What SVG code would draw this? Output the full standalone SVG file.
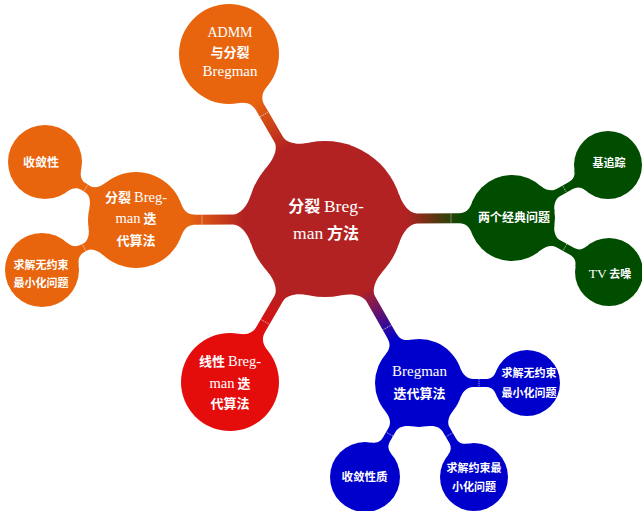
<svg xmlns="http://www.w3.org/2000/svg" width="642" height="511" viewBox="0 0 642 511">
<defs>
<linearGradient id="gO" x1="0" y1="0" x2="1" y2="0"><stop offset="0.1" stop-color="#B22222"/><stop offset="0.9" stop-color="#E8650E"/></linearGradient>
<linearGradient id="gG" x1="0" y1="0" x2="1" y2="0"><stop offset="0.1" stop-color="#B22222"/><stop offset="0.9" stop-color="#004D00"/></linearGradient>
<linearGradient id="gR" x1="0" y1="0" x2="1" y2="0"><stop offset="0.1" stop-color="#B22222"/><stop offset="0.9" stop-color="#E50C0C"/></linearGradient>
<linearGradient id="gB" x1="0" y1="0" x2="1" y2="0"><stop offset="0.1" stop-color="#B22222"/><stop offset="0.9" stop-color="#0000CC"/></linearGradient>
</defs>
<style>
.t{font-family:'Noto Sans CJK SC','Noto Sans CJK JP',sans-serif;font-weight:700;fill:#fff;text-anchor:middle}
.lat{font-family:'Liberation Serif',serif;font-weight:400}
.tick{stroke:#fff;stroke-width:0.7;stroke-dasharray:1.2 0.8;fill:none;opacity:0.85}
</style>
<rect width="642" height="511" fill="#fff"/>
<g id="connectors">
<g transform="translate(325,219) rotate(-120.2)"><path fill="url(#gO)" d="M74.2,-24 C77.6,-13.5 85,-5 92,-5 L128.9,-5 C134.9,-5 140.5,-7.6 143.9,-17 L143.9,17 C140.5,7.6 134.9,5 128.9,5 L92,5 C85,5 77.6,13.5 74.2,24 Z"/><line class="tick" x1="121" y1="-5" x2="121" y2="5"/></g>
<g transform="translate(325,219) rotate(179.7)"><path fill="url(#gO)" d="M74.2,-24 C77.6,-13.5 85,-5 92,-5 L129,-5 C135,-5 140.4,-6.6 143.7,-16 L143.7,16 C140.4,6.6 135,5 129,5 L92,5 C85,5 77.6,13.5 74.2,24 Z"/><line class="tick" x1="123" y1="-5" x2="123" y2="5"/></g>
<g transform="translate(325,219) rotate(-0.3)"><path fill="url(#gG)" d="M74.2,-24 C77.6,-13.5 85,-5 92,-5 L132,-5 C138,-5 143.2,-5.6 146.7,-15 L146.7,15 C143.2,5.6 138,5 132,5 L92,5 C85,5 77.6,13.5 74.2,24 Z"/><line class="tick" x1="126" y1="-5" x2="126" y2="5"/></g>
<g transform="translate(325,219) rotate(120.2)"><path fill="url(#gR)" d="M74.2,-24 C77.6,-13.5 85,-5 92,-5 L127.7,-5 C133.7,-5 139.2,-7.6 142.7,-17 L142.7,17 C139.2,7.6 133.7,5 127.7,5 L92,5 C85,5 77.6,13.5 74.2,24 Z"/><line class="tick" x1="119" y1="-5" x2="119" y2="5"/></g>
<g transform="translate(325,219) rotate(60.2)"><path fill="url(#gB)" d="M74.2,-24 C77.6,-13.5 85,-5 92,-5 L133,-5 C139,-5 144.2,-5.6 147.6,-15 L147.6,15 C144.2,5.6 139,5 133,5 L92,5 C85,5 77.6,13.5 74.2,24 Z"/><line class="tick" x1="125" y1="-5" x2="125" y2="5"/></g>
<g transform="translate(136,220) rotate(-147.5)"><path fill="#E8650E" d="M45.3,-16 C47.6,-9.4 52,-4 57,-4 L61.9,-4 C66.9,-4 70.8,-6.5 73.3,-13 L73.3,13 C70.8,6.5 66.9,4 61.9,4 L57,4 C52,4 47.6,9.4 45.3,16 Z"/><line class="tick" x1="59.5" y1="-4" x2="59.5" y2="4"/></g>
<g transform="translate(136,220) rotate(152)"><path fill="#E8650E" d="M45.3,-16 C47.6,-9.4 52,-4 57,-4 L60.5,-4 C65.5,-4 69.4,-6.5 71.9,-13 L71.9,13 C69.4,6.5 65.5,4 60.5,4 L57,4 C52,4 47.6,9.4 45.3,16 Z"/><line class="tick" x1="58.8" y1="-4" x2="58.8" y2="4"/></g>
<g transform="translate(512,218) rotate(-28.9)"><path fill="#004D00" d="M40.3,-15 C43.1,-7.5 48,-4 53,-4 L66.7,-4 C71.7,-4 75.4,-5.5 77.9,-12 L77.9,12 C75.4,5.5 71.7,4 66.7,4 L53,4 C48,4 43.1,7.5 40.3,15 Z"/><line class="tick" x1="60" y1="-4" x2="60" y2="4"/></g>
<g transform="translate(512,218) rotate(29.1)"><path fill="#004D00" d="M40.3,-15 C43.1,-7.5 48,-4 53,-4 L68,-4 C73,-4 76.7,-5.5 79.2,-12 L79.2,12 C76.7,5.5 73,4 68,4 L53,4 C48,4 43.1,7.5 40.3,15 Z"/><line class="tick" x1="60.5" y1="-4" x2="60.5" y2="4"/></g>
<g transform="translate(419,383)"><path fill="#0000CC" d="M41.4,-15 C44.1,-7.5 49,-4 54,-4 L66,-4 C71,-4 74.8,-5.5 77.3,-12 L77.3,12 C74.8,5.5 71,4 66,4 L54,4 C49,4 44.1,7.5 41.4,15 Z"/><line class="tick" x1="60" y1="-4" x2="60" y2="4"/></g>
<g transform="translate(419,383) rotate(119.9)"><path fill="#0000CC" d="M41.4,-15 C44.1,-7.5 49,-4 54,-4 L64.4,-4 C69.4,-4 73.1,-5.4 75.5,-12 L75.5,12 C73.1,5.4 69.4,4 64.4,4 L54,4 C49,4 44.1,7.5 41.4,15 Z"/><line class="tick" x1="59" y1="-4" x2="59" y2="4"/></g>
<g transform="translate(419,383) rotate(59.7)"><path fill="#0000CC" d="M41.4,-15 C44.1,-7.5 49,-4 54,-4 L65.9,-4 C70.9,-4 74.6,-5.5 77.1,-12 L77.1,12 C74.6,5.5 70.9,4 65.9,4 L54,4 C49,4 44.1,7.5 41.4,15 Z"/><line class="tick" x1="60" y1="-4" x2="60" y2="4"/></g>
</g>
<g id="root"><circle cx="325" cy="219" r="78" fill="#B22222"/>
<text class="t" x="326" y="212" font-size="16">分裂 <tspan class="lat" font-size="17.5">Breg-</tspan></text>
<text class="t" x="326" y="239" font-size="16"><tspan class="lat" font-size="17.5">man</tspan> 方法</text></g>
<g id="admm"><circle cx="229" cy="54" r="50" fill="#E8650E"/>
<text class="t lat" x="230" y="37" font-size="14">ADMM</text>
<text class="t" x="230" y="57" font-size="13">与分裂</text>
<text class="t lat" x="230" y="76" font-size="15">Bregman</text></g>
<g id="split"><circle cx="136" cy="220" r="48" fill="#E8650E"/>
<text class="t" x="136" y="202" font-size="13">分裂 <tspan class="lat" font-size="14.5">Breg-</tspan></text>
<text class="t" x="136" y="223" font-size="13"><tspan class="lat" font-size="14.5">man</tspan> 迭</text>
<text class="t" x="136" y="245" font-size="13">代算法</text></g>
<g id="conv1"><circle cx="45" cy="162" r="37" fill="#E8650E"/>
<text class="t" x="41" y="167" font-size="12">收敛性</text></g>
<g id="uncon1"><circle cx="42" cy="270" r="37" fill="#E8650E"/>
<text class="t" x="41" y="269" font-size="11">求解无约束</text>
<text class="t" x="41" y="287" font-size="11">最小化问题</text></g>
<g id="classic"><circle cx="512" cy="218" r="43" fill="#004D00"/>
<text class="t" x="514" y="222" font-size="12">两个经典问题</text></g>
<g id="bp"><circle cx="608" cy="165" r="34" fill="#004D00"/>
<text class="t" x="609" y="167" font-size="11">基追踪</text></g>
<g id="tv"><circle cx="609" cy="272" r="34" fill="#004D00"/>
<text class="t" x="610" y="278" font-size="11"><tspan class="lat" font-size="13.5">TV</tspan> 去噪</text></g>
<g id="linear"><circle cx="230" cy="382" r="49" fill="#E50C0C"/>
<text class="t" x="230" y="366" font-size="13">线性 <tspan class="lat" font-size="14.5">Breg-</tspan></text>
<text class="t" x="230" y="388" font-size="13"><tspan class="lat" font-size="14.5">man</tspan> 迭</text>
<text class="t" x="230" y="408" font-size="13">代算法</text></g>
<g id="bregman"><circle cx="419" cy="383" r="44" fill="#0000CC"/>
<text class="t lat" x="419.5" y="376" font-size="15">Bregman</text>
<text class="t" x="419.5" y="398" font-size="13">迭代算法</text></g>
<g id="uncon2"><circle cx="527" cy="383" r="33" fill="#0000CC"/>
<text class="t" x="529" y="377" font-size="11">求解无约束</text>
<text class="t" x="529" y="397" font-size="11">最小化问题</text></g>
<g id="conv2"><circle cx="365" cy="477" r="35" fill="#0000CC"/>
<text class="t" x="364.5" y="481" font-size="11.5">收敛性质</text></g>
<g id="con"><circle cx="474" cy="477" r="34" fill="#0000CC"/>
<text class="t" x="474" y="472" font-size="11">求解约束最</text>
<text class="t" x="474" y="491" font-size="11">小化问题</text></g>
</svg>
